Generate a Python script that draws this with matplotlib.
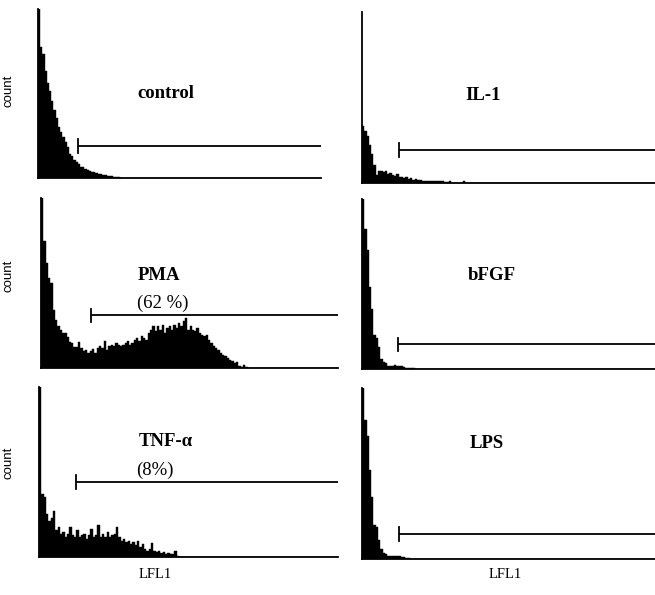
import numpy as np
import matplotlib
matplotlib.use("Agg")
import matplotlib.pyplot as plt

# ---------------- data (histogram bin heights, % of panel height) ----------------
n_bins = 128
bin_width = 8          # channels per bin (0..1024 channel scale)

control = [100, 77, 73, 63, 56, 51, 45, 40, 35, 30, 27, 24, 21, 18, 14, 12.5, 10.5, 9,
           8, 6.5, 6, 5, 4.5, 3.8, 3.2, 3, 2.5, 2.2, 1.8, 1.5, 1.2, 1, 0.8, 0.6, 0.5, 0.4, 0.3]
il1 = [33, 30, 27, 22, 17, 10, 4.5, 6.5, 7, 6, 6.5, 5, 5.5, 4.5, 4, 5, 3, 3.5, 2.5, 3,
       2, 2.5, 1.5, 2, 1.5, 1.5, 1, 1, 0.8, 1, 0.8, 0.8, 0.6, 0.8, 0.6, 0.6, 0.5, 0.5, 0.6,
       0, 0, 0, 0, 0, 0.8]
pma = [100, 75, 62, 53, 50, 34, 28, 24.5, 22.5, 20.5, 20.5, 18.5, 15.5, 14.5, 12.5, 12.5,
       15.5, 11.8, 9.8, 10.8, 8.8, 9.8, 11, 8.8, 11.8, 12.7, 11.8, 15.7, 10.8, 12.7, 13.7,
       12.7, 14.7, 13.7, 12.7, 13.7, 14.7, 15.7, 13.7, 14.7, 16.7, 17.6, 15.7, 18.6, 17.6,
       16.7, 20.6, 22.5, 24.5, 21.6, 24.5, 22.5, 25.5, 20.6, 23.5, 24.5, 22.5, 25.5, 23.5,
       26.5, 24.5, 27.5, 29.4, 22.5, 24.5, 22.5, 21.6, 23.5, 20.6, 19.6, 18.6, 19.6, 16.7,
       14.7, 12.7, 11.8, 10.8, 8.8, 7.8, 6.9, 5.9, 4.9, 3.9, 2.9, 3.3, 1.4, 0.6, 1.6, 0.3]
bfgf = [100, 82, 70, 48, 35, 20, 18, 13, 6, 4, 3.5, 2, 1.8, 2, 2.2, 1.8, 1.5, 1.8, 1.2,
        0.8, 0.6, 0.4, 0.3]
tnf = [100, 37, 35, 25, 21, 23, 27, 15.4, 17.3, 13.4, 14.4, 11.4, 13.4, 17.3, 12.4, 11.4,
       15.4, 11.4, 12.4, 13.4, 10.4, 12.4, 16.3, 11.4, 12.4, 18.3, 11.4, 13.4, 11.4, 14.4,
       11.4, 12.4, 13.4, 17.3, 11.4, 9.4, 10.4, 8.5, 9.4, 7.5, 8.5, 6.5, 9.4, 5.5, 7.5, 4.5,
       3.5, 4.5, 7.9, 3.5, 2.6, 3.1, 2, 2.6, 1.6, 2, 1.2, 1.6, 3.5, 0.3]
lps = [100, 81, 72, 52, 36, 20, 19, 11, 6, 3.5, 3, 2, 1.5, 2, 1.8, 1.5, 1.6, 1.4, 1,
       0.6, 0.5]

titles = ["control", "IL-1", "PMA", "bFGF", "TNF-\u03b1", "LPS"]
percent_labels = ["", "", "(62 %)", "", "(8%)", ""]
gate_start = [145, 129, 171, 127, 127, 129]      # channel of gate marker
gate_level = [18.5, 19, 31, 14.4, 44, 14.6]      # height of gate line
series = [control, il1, pma, bfgf, tnf, lps]
x_label = "LFL1"
y_label = "count"

# ---------------- layout ----------------
W, H = 655, 595
fig = plt.figure(figsize=(W / 100, H / 100), dpi=100)
fig.patch.set_facecolor("white")

# panel boxes in pixels: left, right, top, baseline
boxes = [(38, 321, 8.5, 177.5), (362, 655, 12, 182.5),
         (41, 338, 198, 368), (362, 655, 198.5, 369),
         (39, 338, 387, 556.5), (362, 655, 388, 559)]
# title positions (center x, baseline y) in pixels
title_pos = [(166, 97.5), (483, 100), (158.5, 279.5), (491.5, 280), (165.5, 446.5), (486.5, 448)]
pct_pos = [None, None, (162.5, 307.5), None, (155, 475), None]

serif = ["Liberation Serif", "DejaVu Serif"]
sans = ["Liberation Sans", "DejaVu Sans"]

def fx(px):
    return px / W

def fy(py):
    return 1 - py / H

edges = np.arange(n_bins) * bin_width
for i, (l, r, t, b) in enumerate(boxes):
    ax = fig.add_axes([fx(l), fy(b), (r - l) / W, (b - t) / H])
    vals = np.zeros(n_bins)
    vals[:len(series[i])] = series[i]
    ax.bar(edges, vals, width=bin_width, align="edge", color="black",
           edgecolor="black", linewidth=0.3)
    ax.set_xlim(0, n_bins * bin_width)
    ax.set_ylim(0, 100)
    for s in ["top", "right"]:
        ax.spines[s].set_visible(False)
    ax.spines["left"].set_linewidth(1.3)
    ax.spines["bottom"].set_linewidth(1.3)
    ax.set_xticks([])
    ax.set_yticks([])
    ax.patch.set_alpha(0)
    # gate marker
    g0, gl = gate_start[i], gate_level[i]
    ax.plot([g0, n_bins * bin_width], [gl, gl], color="black", lw=1.3,
            clip_on=False, solid_capstyle="butt")
    ax.plot([g0, g0], [gl - 4, gl + 4], color="black", lw=1.3, clip_on=False)
    # title
    tx, ty = title_pos[i]
    fig.text(fx(tx), fy(ty), titles[i], ha="center", va="baseline",
             fontsize=13.5, fontweight="bold", family=serif)
    if pct_pos[i] is not None:
        px_, py_ = pct_pos[i]
        fig.text(fx(px_), fy(py_), percent_labels[i], ha="center", va="baseline",
                 fontsize=13.5, family=serif)

# y labels
for cy in [91, 276, 463]:
    fig.text(fx(8.5), fy(cy), y_label, rotation=90, ha="center", va="center",
             fontsize=9.5, family=sans)
# x labels
for cx in [155, 505]:
    fig.text(fx(cx), fy(578.5), x_label, ha="center", va="baseline",
             fontsize=10.5, family=serif)

fig.savefig("out.png", dpi=100, facecolor="white")
